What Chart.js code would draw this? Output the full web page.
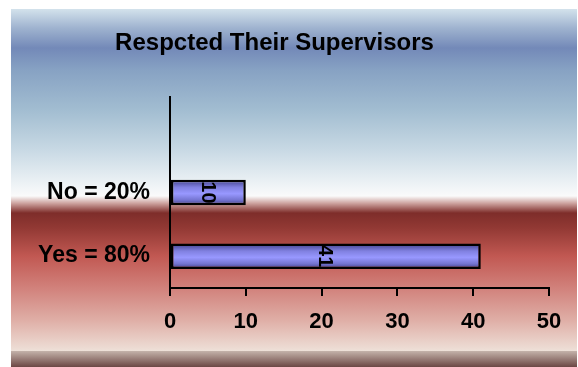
<!DOCTYPE html>
<html>
<head>
<meta charset="utf-8">
<script src="https://cdn.jsdelivr.net/npm/chart.js@4"></script>
<style>
  html, body { margin: 0; padding: 0; background: #fff; }
  #wrap { width: 578px; height: 367px; position: relative; }
</style>
</head>
<body>
<div id="wrap"><canvas id="chart"></canvas></div>
<script>
const categories = ['', 'No = 20%', 'Yes = 80%'];
const counts = [null, 10, 41];
const xTicks = [0, 10, 20, 30, 40, 50];

// panel background: blue sky fading to white, then a red band
const panelBg = {
  id: 'panelBg',
  beforeDraw(chart) {
    const c = chart.ctx;
    const x0 = 11, y0 = 9, x1 = 577, y1 = 351;
    const g = c.createLinearGradient(0, y0, 0, y1);
    const h = y1 - y0;
    const stop = (y, col) => g.addColorStop((y - y0) / h, col);
    stop(9, '#d3e2ec');
    stop(28, '#9fb3cf');
    stop(48, '#7389b8');
    stop(70, '#87a2c3');
    stop(110, '#a2bdd1');
    stop(150, '#c8d9e4');
    stop(185, '#eef3f6');
    stop(196, '#fafafa');
    stop(203, '#cfa6a2');
    stop(213, '#7e2d2a');
    stop(228, '#923934');
    stop(256, '#c15852');
    stop(290, '#d2847e');
    stop(320, '#dfaea6');
    stop(351, '#eee0d8');
    c.save();
    c.fillStyle = g;
    c.fillRect(x0, y0, x1 - x0, y1 - y0);
    // darker strip along the bottom edge
    const s = c.createLinearGradient(0, y1, 0, 367);
    s.addColorStop(0, '#c4b2aa');
    s.addColorStop(1, '#6c4744');
    c.fillStyle = s;
    c.fillRect(x0, y1, x1 - x0, 367 - y1);
    c.restore();
  }
};

// value written sideways in the middle of each bar
const barValues = {
  id: 'barValues',
  afterDatasetsDraw(chart) {
    const c = chart.ctx;
    const meta = chart.getDatasetMeta(0);
    c.save();
    c.font = 'bold 20px Arial, "Liberation Sans", sans-serif';
    c.fillStyle = '#000';
    c.textAlign = 'center';
    c.textBaseline = 'middle';
    meta.data.forEach((bar, i) => {
      const v = counts[i];
      if (v == null) return;
      const cx = (bar.base + bar.x) / 2;
      c.save();
      c.translate(cx, bar.y);
      c.rotate(Math.PI / 2);
      c.fillText(String(v), 0, 1);
      c.restore();
    });
    c.restore();
  }
};

function barFill(context) {
  const chart = context.chart;
  const y = chart.scales.y;
  if (!y || context.type !== 'data') return '#8c8cf0';
  const center = y.getPixelForValue(context.dataIndex);
  const half = (y.height / categories.length) * 0.4 / 2;
  if (!Number.isFinite(center) || !Number.isFinite(half) || half <= 0) return '#8c8cf0';
  const g = chart.ctx.createLinearGradient(0, center - half, 0, center + half);
  g.addColorStop(0, '#3e3e88');
  g.addColorStop(0.3, '#8080e0');
  g.addColorStop(0.55, '#9898ff');
  g.addColorStop(0.8, '#7474d0');
  g.addColorStop(1, '#3c3c84');
  return g;
}

const font = { family: 'Arial, "Liberation Sans", sans-serif', weight: 'bold' };

new Chart(document.getElementById('chart'), {
  type: 'bar',
  data: {
    labels: categories,
    datasets: [{
      data: counts,
      backgroundColor: barFill,
      borderColor: '#000',
      borderWidth: 2.5,
      borderSkipped: false,
      barPercentage: 1,
      categoryPercentage: 0.4
    }]
  },
  options: {
    indexAxis: 'y',
    responsive: true,
    maintainAspectRatio: false,
    animation: false,
    layout: { padding: { top: 0, right: 29, left: 0, bottom: 0 } },
    plugins: {
      legend: { display: false },
      tooltip: { enabled: false },
      title: {
        display: true,
        text: 'Respcted Their Supervisors',
        color: '#000',
        font: { ...font, size: 24 },
        padding: { top: 29, bottom: 39 }
      }
    },
    scales: {
      x: {
        min: 0,
        max: 50,
        afterBuildTicks(axis) { axis.ticks = xTicks.map(v => ({ value: v })); },
        afterFit(axis) { axis.height = 79; },
        border: { display: true, color: '#000', width: 2 },
        grid: { drawOnChartArea: false, drawTicks: true, tickLength: 8, color: '#000', lineWidth: 2 },
        ticks: { color: '#000', font: { ...font, size: 22 }, padding: 13, maxRotation: 0 }
      },
      y: {
        afterFit(axis) { axis.width = 170; },
        border: { display: true, color: '#000', width: 2 },
        grid: { display: false, drawTicks: false },
        ticks: { color: '#000', font: { ...font, size: 23 }, padding: 20 }
      }
    }
  },
  plugins: [panelBg, barValues]
});
</script>
</body>
</html>
